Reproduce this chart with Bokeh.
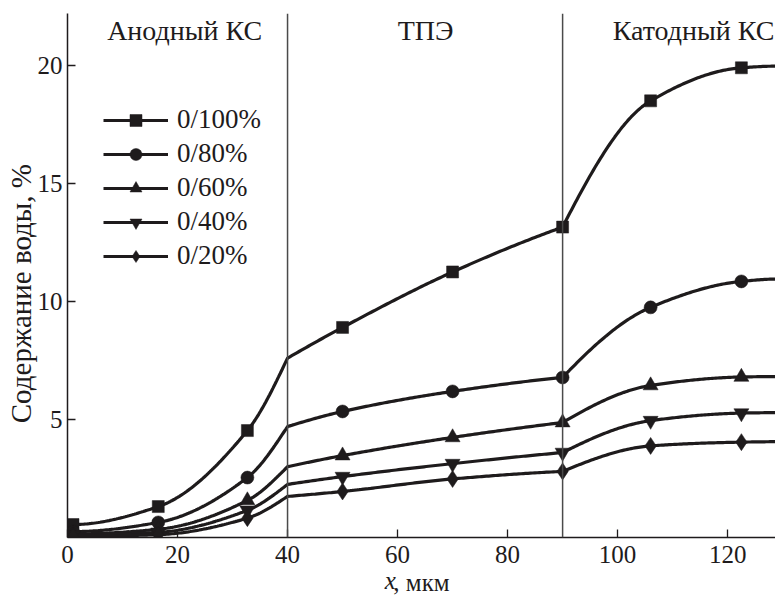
import numpy as np
from bokeh.plotting import figure
from bokeh.models import Range1d, Span, Label, Legend, LegendItem, FixedTicker, LinearAxis
from bokeh.embed import file_html
from bokeh.resources import INLINE

# ---- data ----
x_pos = [1, 16.5, 32.7, 40, 50, 70, 90, 106, 122.5, 129]
marked = [True, True, True, False, True, True, True, True, True, False]
series_labels = ["0/100%", "0/80%", "0/60%", "0/40%", "0/20%"]
s100 = [0.55, 1.31, 4.53, 7.60, 8.90, 11.25, 13.15, 18.50, 19.90, 19.97]
s80 = [0.25, 0.64, 2.54, 4.70, 5.34, 6.19, 6.78, 9.75, 10.85, 10.95]
s60 = [0.15, 0.35, 1.57, 3.00, 3.47, 4.24, 4.87, 6.44, 6.80, 6.82]
s40 = [0.10, 0.22, 1.15, 2.25, 2.58, 3.13, 3.60, 4.95, 5.27, 5.29]
s20 = [0.05, 0.12, 0.82, 1.74, 1.95, 2.48, 2.80, 3.88, 4.04, 4.06]
series = [s100, s80, s60, s40, s20]
markers = ["square", "circle", "triangle", "inverted_triangle", "diamond"]
marker_sizes = [12, 13, 15, 15, 17]
zone_bounds = [40, 90]
zone_names = ["Анодный КС", "ТПЭ", "Катодный КС"]
zone_label_x = [21.3, 65.1, 113.8]
x_ticks = [0, 20, 40, 60, 80, 100, 120]
y_ticks = [5, 10, 15, 20]

FONT = "Liberation Serif"
INK = "#1e1b1c"
NBSP = "\u00a0"


def pchip(xs, ys, xq):
    xs = np.asarray(xs, float)
    ys = np.asarray(ys, float)
    n = len(xs)
    h = np.diff(xs)
    d = np.diff(ys) / h
    if n == 2:
        return np.interp(xq, xs, ys)
    m = np.zeros(n)
    for k in range(1, n - 1):
        if d[k - 1] * d[k] <= 0:
            m[k] = 0.0
        else:
            w1 = 2 * h[k] + h[k - 1]
            w2 = h[k] + 2 * h[k - 1]
            m[k] = (w1 + w2) / (w1 / d[k - 1] + w2 / d[k])

    def end(h0, h1, d0, d1):
        mm = ((2 * h0 + h1) * d0 - h0 * d1) / (h0 + h1)
        if np.sign(mm) != np.sign(d0):
            mm = 0.0
        elif np.sign(d0) != np.sign(d1) and abs(mm) > abs(3 * d0):
            mm = 3 * d0
        return mm

    m[0] = end(h[0], h[1], d[0], d[1])
    m[-1] = end(h[-1], h[-2], d[-1], d[-2])
    out = np.empty_like(xq)
    for i, xv in enumerate(xq):
        k = min(max(np.searchsorted(xs, xv) - 1, 0), n - 2)
        t = (xv - xs[k]) / h[k]
        h00 = 2 * t**3 - 3 * t**2 + 1
        h10 = t**3 - 2 * t**2 + t
        h01 = -2 * t**3 + 3 * t**2
        h11 = t**3 - t**2
        out[i] = h00 * ys[k] + h10 * h[k] * m[k] + h01 * ys[k + 1] + h11 * h[k] * m[k + 1]
    return out


def smooth(xs, ys):
    # piecewise smooth curve, with kinks at the zone boundaries
    xs = list(xs)
    cuts = [0] + [xs.index(b) for b in zone_bounds] + [len(xs) - 1]
    px, py = [], []
    for a, b in zip(cuts[:-1], cuts[1:]):
        sx = xs[a:b + 1]
        sy = ys[a:b + 1]
        q = np.linspace(sx[0], sx[-1], 120)
        px.extend(q.tolist())
        py.extend(pchip(sx, sy, q).tolist())
    return px, py


p = figure(width=775, height=598, x_range=Range1d(0, 128.7), y_range=Range1d(0, 22.2),
           output_backend="svg", toolbar_location=None,
           min_border_left=67, min_border_right=0, min_border_top=13, min_border_bottom=61)
p.outline_line_color = None
p.grid.visible = False
p.background_fill_color = "white"

for ax in (p.xaxis[0], p.yaxis[0]):
    ax.axis_line_color = INK
    ax.axis_line_width = 1.5
    ax.major_tick_line_color = INK
    ax.major_tick_line_width = 1.3
    ax.major_tick_in = 8
    ax.major_tick_out = 0
    ax.minor_tick_line_color = None
    ax.major_label_text_font = FONT
    ax.major_label_text_font_size = "25px"
    ax.major_label_text_color = INK
p.xaxis.ticker = FixedTicker(ticks=x_ticks)
p.yaxis.ticker = FixedTicker(ticks=y_ticks)
p.xaxis.major_label_standoff = 8
p.yaxis.major_label_standoff = 5


def title_axis(label, size, style, standoff):
    return LinearAxis(ticker=FixedTicker(ticks=[]),
                      axis_line_color=None, major_tick_line_color=None, minor_tick_line_color=None,
                      major_tick_in=0, major_tick_out=0, minor_tick_in=0, minor_tick_out=0,
                      major_label_standoff=0, axis_label=label, axis_label_standoff=standoff,
                      axis_label_text_font=FONT, axis_label_text_font_size=size,
                      axis_label_text_font_style=style, axis_label_text_color=INK)


# y title (trailing no-break spaces move it a little below the frame middle)
p.add_layout(title_axis("Содержание воды, %" + NBSP * 5, "29px", "normal", -2), "left")
# x title: italic "x" followed by ", мкм" on the same row
p.add_layout(title_axis("x" + NBSP * 10, "25px", "italic", 1), "below")
p.add_layout(title_axis(", мкм", "25px", "normal", -28), "below")

for b in zone_bounds:
    p.add_layout(Span(location=b, dimension="height", line_color="#4a4a4a", line_width=1.5))

items = []
for lab, ys, mk, ms in zip(series_labels, series, markers, marker_sizes):
    cx, cy = smooth(x_pos, ys)
    lr = p.line(cx, cy, line_color=INK, line_width=3.2)
    mx = [xv for xv, f in zip(x_pos, marked) if f]
    my = [yv for yv, f in zip(ys, marked) if f]
    sr = p.scatter(mx, my, marker=mk, size=ms, fill_color=INK, line_color=INK, line_width=0.5)
    items.append(LegendItem(label=lab, renderers=[lr, sr]))

legend = Legend(items=items, location=(36, 266), orientation="vertical",
                glyph_width=65, glyph_height=30, label_height=30, spacing=3,
                label_standoff=9, padding=0, margin=0,
                label_text_font=FONT, label_text_font_size="27px", label_text_color=INK,
                border_line_alpha=0, background_fill_alpha=0)
p.add_layout(legend, "center")

for name, zx in zip(zone_names, zone_label_x):
    p.add_layout(Label(x=zx, y=21.5, text=name, text_align="center", text_baseline="middle",
                       text_font=FONT, text_font_size="28px", text_color=INK))

open("out.html", "w").write(file_html(p, INLINE))
